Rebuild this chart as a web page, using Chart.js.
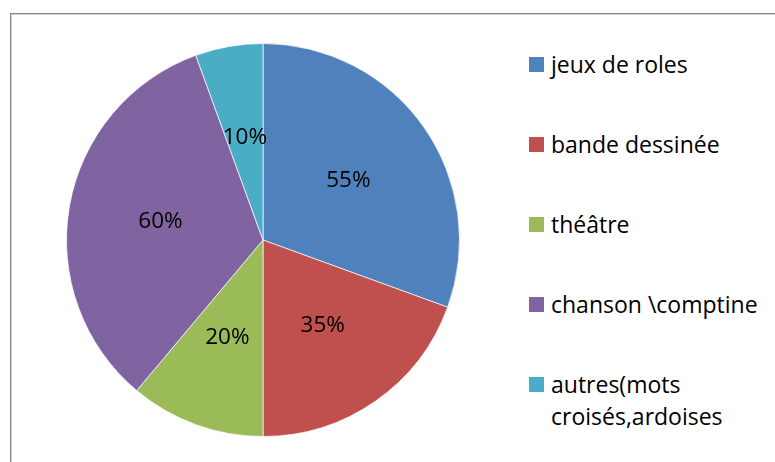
<!DOCTYPE html>
<html>
<head>
<meta charset="utf-8">
<script src="https://cdn.jsdelivr.net/npm/chart.js@4.4.0/dist/chart.umd.min.js"></script>
<style>
  html, body { margin: 0; padding: 0; background: #fff; overflow: hidden; }
  body { width: 775px; height: 462px; position: relative; font-family: 'Open Sans', sans-serif; }
  #frame {
    position: absolute; left: 10px; top: 13px; width: 800px; height: 500px;
    border: 1px solid #878787; box-shadow: inset 1px 1px 0 #d2d2d2;
  }
  #pieBox { position: absolute; left: 60px; top: 37px; width: 406px; height: 406px; }
  #legend { position: absolute; left: 529px; top: 48px; width: 245px; }
  .item { display: flex; align-items: flex-start; margin-bottom: 48px; }
  .swatch { width: 15px; height: 15px; margin-top: 9px; margin-right: 7px; flex: none; }
  .label { font-size: 23px; line-height: 32px; color: #000; width: 222px; white-space: normal; }
</style>
</head>
<body>
<div id="frame"></div>
<div id="pieBox"><canvas id="pieChart"></canvas></div>
<div id="legend"></div>

<script>
// ===== 데이터 =====
const categories = ['jeux de roles', 'bande dessinée', 'théâtre', 'chanson \\comptine', 'autres(mots croisés,ardoises'];
const values = [55, 35, 20, 60, 10];
const valueLabels = ['55%', '35%', '20%', '60%', '10%'];
const sliceColors = ['#4F81BD', '#C0504D', '#9BBB59', '#8064A2', '#4BACC6'];

// ===== 범례 =====
function renderLegend() {
    const box = document.getElementById('legend');
    categories.forEach((name, i) => {
        const item = document.createElement('div');
        item.className = 'item';
        item.innerHTML = '<div class="swatch" style="background:' + sliceColors[i] + '"></div>' +
            '<div class="label"></div>';
        item.querySelector('.label').textContent = name;
        box.appendChild(item);
    });
}

// 조각 안쪽 라벨
const sliceLabels = {
    id: 'sliceLabels',
    afterDatasetsDraw(chart) {
        const ctx = chart.ctx;
        const meta = chart.getDatasetMeta(0);
        ctx.save();
        ctx.font = '22.5px "Open Sans", sans-serif';
        ctx.fillStyle = '#000';
        ctx.textAlign = 'center';
        ctx.textBaseline = 'middle';
        meta.data.forEach((arc, i) => {
            const p = arc.getProps(['x', 'y', 'startAngle', 'endAngle', 'outerRadius']);
            const mid = (p.startAngle + p.endAngle) / 2;
            const r = p.outerRadius * 0.53;
            ctx.fillText(valueLabels[i], p.x + Math.cos(mid) * r, p.y + Math.sin(mid) * r);
        });
        ctx.restore();
    }
};

function renderPie() {
    const ctx = document.getElementById('pieChart').getContext('2d');
    new Chart(ctx, {
        type: 'pie',
        data: {
            labels: categories,
            datasets: [{
                data: values,
                backgroundColor: sliceColors,
                borderColor: 'rgba(255,255,255,0.7)',
                borderWidth: 1
            }]
        },
        options: {
            responsive: true,
            maintainAspectRatio: false,
            animation: false,
            layout: { padding: 6 },
            plugins: { legend: { display: false }, tooltip: { enabled: false } }
        },
        plugins: [sliceLabels]
    });
}

renderLegend();
renderPie();
</script>
</body>
</html>
